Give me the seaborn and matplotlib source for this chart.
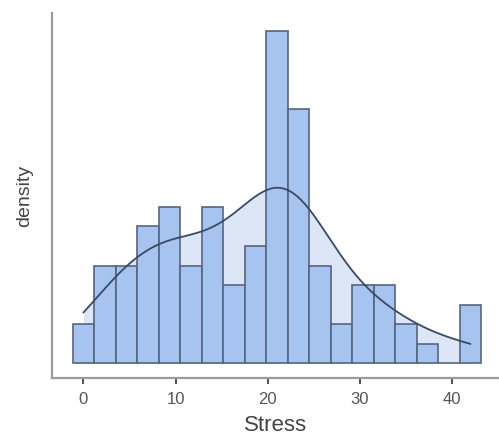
import numpy as np
import pandas as pd
import matplotlib
matplotlib.use("Agg")
import matplotlib.pyplot as plt
import seaborn as sns

# Bin centres of the histogram (Stress) and counts
bin_centers = [0, 2.333, 4.667, 7, 9.333, 11.667, 14, 16.333, 18.667, 21,
               23.333, 25.667, 28, 30.333, 32.667, 35, 37.333, 39.667, 42]
counts = [2, 5, 5, 7, 8, 5, 8, 4, 6, 17, 13, 5, 2, 4, 4, 2, 1, 0, 3]
xticks = [0, 10, 20, 30, 40]

stress = np.repeat(bin_centers, counts)
df = pd.DataFrame({"Stress": stress})

sns.set_style("white")
plt.rcParams['font.family'] = ['Liberation Sans', 'DejaVu Sans']

fig = plt.figure(figsize=(4.99, 4.48), dpi=100)
ax = fig.add_axes([0.105, 0.156, 0.895, 0.815])

binw = 7 / 3
edges = np.arange(-binw / 2, 42 + binw, binw)
bw = 1.15

sns.kdeplot(data=df, x="Stress", ax=ax, cut=0, fill=True, bw_adjust=bw,
            color="#dde6f7", alpha=1, linewidth=0, zorder=1)
sns.histplot(data=df, x="Stress", ax=ax, bins=edges, stat="density",
             color="#a7c3f0", edgecolor="#56657f", linewidth=1.2, alpha=1,
             zorder=2)
sns.kdeplot(data=df, x="Stress", ax=ax, cut=0, fill=False, bw_adjust=bw,
            color="#3b4a63", linewidth=1.3, zorder=3)

n = len(stress)
scale = n * binw
ax.set_xlim(-3.36, 45.1)
ax.set_ylim(-0.75 / scale, 17.9 / scale)
ax.set_xticks(xticks)
ax.set_xticklabels([str(t) for t in xticks], color="#555555", fontsize=12)
ax.set_yticks([])
ax.tick_params(axis="x", direction="out", length=4, width=1.2, color="#333333",
               bottom=True, pad=6)
for s in ["top", "right"]:
    ax.spines[s].set_visible(False)
for s in ["left", "bottom"]:
    ax.spines[s].set_color("#9a9a9a")
    ax.spines[s].set_linewidth(1.6)
ax.set_xlabel("Stress", fontsize=16, color="#444444", labelpad=6)
ax.set_ylabel("density", fontsize=14, color="#444444", labelpad=14)

fig.savefig("out.png", dpi=100)
